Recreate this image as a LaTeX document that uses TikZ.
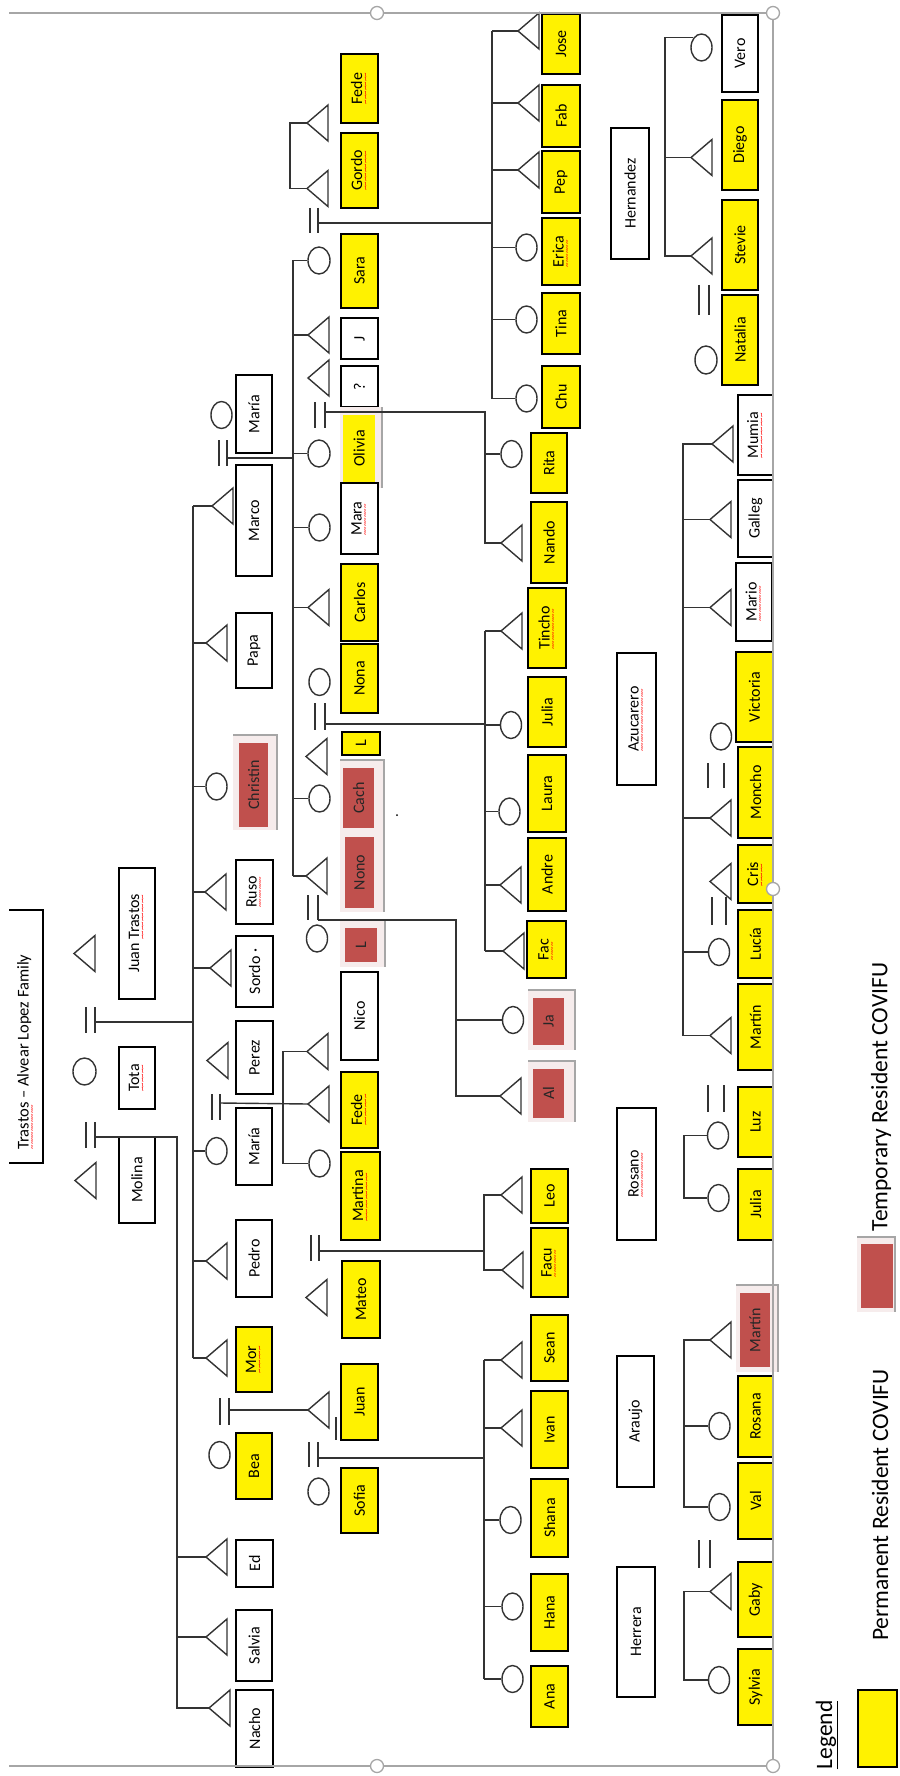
\documentclass[tikz,border=0pt]{standalone}
\usepackage{fontspec}
\setmainfont{Carlito}
\usetikzlibrary{shapes.geometric}
\definecolor{tred}{HTML}{C0504D}
\definecolor{tpink}{HTML}{F6ECEC}
\definecolor{tgray}{HTML}{A6A6A6}
\newcommand\sq[1]{\setbox0\hbox{#1}\rlap{\color{red}\hbox to \wd0{\leaders\hbox{\lower6pt\hbox{\fontsize{9}{9}\selectfont\char"7E}}\hfill}}\box0\relax}
\newcommand\nf{\fontsize{16}{19}\selectfont}
\newcommand\tf{\fontsize{16.5}{19}\selectfont}
\newcommand\lf{\fontsize{23.5}{27}\selectfont}
% box: [style]{name}{x1}{x2}{y1}{y2}{text}
\newcommand\bx[7][wbox]{\node[#1,rotate=90,minimum width={#6-#5},minimum height={#4-#3}] (#2) at ({(#3+#4)/2},{(#5+#6)/2}) {#7};}
% male: {name}{apex x}{apex y}
\newcommand\mal[3]{\coordinate (#1) at (#2,#3);\draw[ln,line join=miter] (#1) -- ++(21,-18) -- ++(0,36) -- cycle;}
% marriage bars: {name}{xa}{xb}{y1}{y2}{yc}
\newcommand\mar[6]{\draw[ln] (#2,#4) -- (#2,#5) (#3,#4) -- (#3,#5);\coordinate (#1) at (#3,#6);}
% frame: {x1}{x2}{y1}{y2}
\newcommand\frm[4]{\fill[tpink] (#1,#3) rectangle (#2,#4);\draw[fr] (#1,#3) -- (#2,#3) -- (#2,#4);}
% branch: {vertical coordinate}{node}
\newcommand\br[2]{\draw[ln] (#2) -- (#2 -| #1);}
\begin{document}
\begin{tikzpicture}[x=1pt,y=-1pt,
 ln/.style={line width=1.4pt,draw=black!80},
 fem/.style={ellipse,draw=black!80,line width=1.4pt,minimum width=21pt,minimum height=27pt,inner sep=0pt},
 wbox/.style={draw=black,line width=1.6pt,fill=white,inner sep=0pt,font=\nf},
 ybox/.style={wbox,fill=yellow},
 rbox/.style={fill=tred,inner sep=0pt,font=\nf,text=black!85},
 yfill/.style={fill=yellow,inner sep=0pt,font=\nf},
 lab/.style={rotate=90,inner sep=0pt,font=\lf},
 hdl/.style={circle,draw=tgray,fill=white,line width=1.3pt,minimum size=13pt,inner sep=0pt},
 gline/.style={draw=tgray,line width=1.3pt},
 fr/.style={draw=black!35,line width=1.5pt}]
\useasboundingbox (0,0) rectangle (899,1776);
\fill[white] (0,0) rectangle (899,1776);

% ---------- title ----------
\draw[draw=black,line width=1.6pt] (9,910) -- (43,910) -- (43,1163) -- (9,1163);
\node[rotate=90,inner sep=0pt,font=\tf] (title) at (26,1052) {\sq{Trastos} – Alvear Lopez Family};

% ---------- generation 1 ----------
\mal{mol}{75}{1180.5}
\mar{m1}{86}{95}{1122}{1148}{1137}
\node[fem,minimum width=23pt] (tota) at (84.5,1071.5) {};
\mar{m2}{86}{95}{1007}{1033}{1022}
\mal{jt}{74}{953.5}
\bx{bJT}{119}{155}{868}{999}{Juan \sq{Trastos}}
\bx{bTota}{119}{155}{1047}{1109}{\sq{Tota}}
\bx{bMolina}{119}{155}{1137}{1223}{Molina}

% ---------- generation 2 symbols ----------
\node[fem] (mariaA) at (221.5,415) {};
\mar{m3}{219}{227}{440}{466}{458}
\mal{marco}{212}{506}
\mal{papa}{206}{643}
\node[fem] (christin) at (216.5,786.5) {};
\mal{ruso}{205}{892}
\mal{sordo}{210}{968}
\mal{perez}{207}{1060.5}
\mar{m4}{212}{220}{1094}{1120}{1103}
\node[fem] (mariaB) at (216.5,1151) {};
\mal{pedro}{206}{1261}
\mal{mor}{206}{1358}
\mar{m5}{220}{229}{1398}{1425}{1410}
\node[fem] (bea) at (219.5,1455) {};
\mal{ed}{206}{1557}
\mal{salvia}{206}{1637}
\mal{nacho}{209}{1708}

% ---------- generation 2 boxes ----------
\bx{bMariaA}{236}{272}{375}{453}{María}
\bx{bMarco}{236}{272}{465}{576}{Marco}
\bx{bPapa}{236}{272}{613}{688}{Papa}
\frm{233}{277}{735}{830}
\bx[rbox]{bChristin}{239}{268}{743}{827}{Christin}
\bx{bRuso}{236}{273}{860}{924}{\sq{Ruso}}
\bx{bSordo}{236}{273}{936}{1007}{Sordo ·}
\bx{bPerez}{236}{273}{1021}{1094}{Perez}
\bx{bMariaB}{236}{272}{1108}{1185}{María}
\bx{bPedro}{236}{272}{1220}{1297}{Pedro}
\bx[ybox]{bMor}{236}{272}{1327}{1392}{\sq{Mor}}
\bx[ybox]{bBea}{236}{272}{1433}{1499}{Bea}
\bx{bEd}{236}{273}{1540}{1587}{Ed}
\bx{bSalvia}{236}{272}{1610}{1681}{Salvia}
\bx{bNacho}{236}{273}{1690}{1767}{Nacho}

% ---------- generation 3 symbols ----------
\mal{fedeT}{307}{123}
\mal{gordo}{307}{188.5}
\mar{m6}{310}{318}{208}{233}{223}
\node[fem,minimum width=22pt] (sara) at (319,260.5) {};
\mal{j}{308}{335}
\mal{q}{308}{378}
\mar{m7}{315}{325}{402}{428}{412}
\node[fem,minimum width=22pt] (olivia) at (319,453.5) {};
\node[fem] (mara) at (319.5,527.5) {};
\mal{carlos}{308}{607.5}
\node[fem] (nona) at (319.5,682) {};
\mar{m8}{315}{325}{703}{730}{724}
\mal{lT}{306}{756.5}
\node[fem] (cach) at (319.5,798.5) {};
\mal{nono}{306}{876}
\mar{m9}{308}{318}{895}{920}{920}
\node[fem] (lC) at (317,938.5) {};
\mal{nico}{307}{1051.5}
\mal{fedeB}{308}{1104}
\node[fem] (martina) at (319.5,1163.5) {};
\mar{m10}{311}{319}{1235}{1261}{1251}
\mal{mateo}{306}{1297.5}
\mal{juan}{308}{1410}
\draw[ln] (336,1417) -- (336,1440);
\mar{m11}{309}{318}{1442}{1467}{1458}
\node[fem] (sofia) at (318.5,1491.5) {};

% ---------- generation 3 boxes ----------
\bx[ybox]{bFedeA}{341}{378}{54}{123}{\sq{Fede}}
\bx[ybox]{bGordo}{341}{378}{133}{208}{\sq{Gordo}}
\bx[ybox]{bSara}{341}{378}{234}{308}{Sara}
\bx{bJ}{341}{378}{318}{359}{J}
\bx{bQ}{341}{378}{366}{407}{?}
\fill[tpink] (340,407) rectangle (382,488);
\draw[fr] (382,407) -- (382,488);
\bx[yfill]{bOlivia}{343}{375}{415}{482}{Olivia}
\bx{bMara}{341}{378}{483}{554}{\sq{Mara}}
\bx[ybox]{bCarlos}{341}{378}{564}{641}{Carlos}
\bx[ybox]{bNona}{341}{378}{644}{713}{Nona}
\bx[ybox]{bL1}{342}{380}{732}{755}{L}
\frm{340}{384}{760}{912}
\bx[rbox]{bCach}{343}{374}{768}{828}{Cach}
\bx[rbox]{bNono}{345}{374}{837}{908}{Nono}
\frm{340}{385}{920}{967}
\bx[rbox]{bL2}{345}{377}{928}{962}{L}
\fill (397,815) circle (1pt);
\bx{bNico}{341}{378}{972}{1060}{Nico}
\bx[ybox]{bFedeB}{341}{378}{1072}{1148}{\sq{Fede}}
\bx[ybox]{bMartina}{341}{380}{1152}{1240}{\sq{Martina}}
\bx[ybox]{bMateo}{342}{380}{1261}{1338}{Mateo}
\bx[ybox]{bJuan}{341}{378}{1364}{1440}{Juan}
\bx[ybox]{bSofia}{341}{378}{1468}{1533}{Sofia}

% ---------- generation 4 symbols ----------
\mal{jose}{518}{31}
\mal{fab}{518}{103}
\mal{pep}{518}{170}
\node[fem] (erica) at (526.5,247.5) {};
\node[fem] (tina) at (526.5,319.5) {};
\node[fem] (chu) at (526.5,398.5) {};
\node[fem] (rita) at (511.5,454) {};
\mal{nando}{501}{543}
\mal{tincho}{501}{631}
\node[fem] (juliaA) at (511,725) {};
\node[fem] (laura) at (509.5,811.5) {};
\mal{andre}{500}{885}
\mal{fac}{503}{951}
\node[fem] (ja) at (513,1020) {};
\mal{al}{500}{1096}
\mal{leo}{501}{1195}
\mal{facu}{502}{1270}
\mal{sean}{501}{1360}
\mal{ivan}{501}{1428}
\node[fem] (shana) at (510.5,1520) {};
\node[fem] (hana) at (512.5,1606.5) {};
\node[fem] (ana) at (512.5,1679) {};

% ---------- generation 4 boxes ----------
\bx[ybox]{bJose}{542}{580}{14}{74}{Jose}
\bx[ybox]{bFab}{542}{580}{85}{147}{Fab}
\bx[ybox]{bPep}{542}{580}{151}{213}{Pep}
\bx[ybox]{bErica}{542}{580}{218}{285}{\sq{Erica}}
\bx[ybox]{bTina}{542}{580}{293}{354}{Tina}
\bx[ybox]{bChu}{542}{580}{366}{428}{Chu}
\bx[ybox]{bRita}{531}{567}{433}{493}{Rita}
\bx[ybox]{bNando}{531}{567}{502}{583}{Nando}
\bx[ybox]{bTincho}{528}{566}{588}{668}{\sq{Tincho}}
\bx[ybox]{bJuliaA}{528}{566}{677}{747}{Julia}
\bx[ybox]{bLaura}{528}{566}{755}{832}{Laura}
\bx[ybox]{bAndre}{528}{566}{838}{911}{Andre}
\bx[ybox]{bFac}{527}{566}{921}{978}{\sq{Fac}}
\frm{528}{575}{990}{1050}
\bx[rbox]{bJa}{533}{564}{998}{1045}{Ja}
\frm{528}{575}{1061}{1122}
\bx[rbox]{bAl}{533}{564}{1069}{1118}{Al}
\bx[ybox]{bLeo}{531}{568}{1169}{1223}{Leo}
\bx[ybox]{bFacu}{531}{568}{1228}{1297}{\sq{Facu}}
\bx[ybox]{bSean}{531}{568}{1315}{1381}{Sean}
\bx[ybox]{bIvan}{531}{568}{1391}{1468}{Ivan}
\bx[ybox]{bShana}{531}{568}{1479}{1557}{Shana}
\bx[ybox]{bHana}{531}{568}{1574}{1651}{Hana}
\bx[ybox]{bAna}{531}{568}{1666}{1727}{Ana}

% ---------- family labels ----------
\bx{bHern}{611}{649}{128}{259}{Hernandez}
\bx{bAzu}{617}{656}{653}{785}{\sq{Azucarero}}
\bx{bRosano}{617}{656}{1108}{1240}{\sq{Rosano}}
\bx{bAraujo}{617}{654}{1356}{1487}{Araujo}
\bx{bHerrera}{617}{655}{1567}{1697}{Herrera}

% ---------- right families symbols ----------
\node[fem] (vero) at (701.5,47.5) {};
\mal{diego}{691}{157.5}
\mal{stevie}{691}{256}
\mar{m12}{699}{709}{285}{315}{300}
\node[fem,minimum width=22pt,minimum height=28pt] (natalia) at (706,360) {};
\mal{mumia}{712}{444}
\mal{galleg}{710}{519.5}
\mal{mario}{710}{607.5}
\node[fem] (victoria) at (721,736.5) {};
\mar{m13}{708}{724}{763}{788}{775}
\mal{moncho}{710}{818}
\mal{cris}{710}{881.5}
\mar{m14}{712}{726}{897}{925}{911}
\node[fem] (lucia) at (719,952) {};
\mal{martinA}{710}{1035.5}
\mar{m15}{708}{724}{1085}{1112}{1098}
\node[fem] (luz) at (718,1135.5) {};
\node[fem] (juliaB) at (718.5,1198) {};
\mal{martinR}{710}{1340}
\node[fem] (rosana) at (719.5,1426) {};
\node[fem] (val) at (719.5,1507) {};
\mar{m16}{699}{710}{1540}{1568}{1554}
\mal{gaby}{710}{1591.5}
\node[fem] (sylvia) at (719,1680) {};

% ---------- right families boxes ----------
\bx{bVero}{722}{758}{15}{92}{Vero}
\bx[ybox]{bDiego}{722}{758}{100}{190}{Diego}
\bx[ybox]{bStevie}{722}{758}{200}{290}{Stevie}
\bx[ybox]{bNatalia}{722}{758}{295}{385}{Natalia}
\bx{bMumia}{738}{773}{395}{475}{\sq{Mumia}}
\bx{bGalleg}{738}{773}{480}{557}{Galleg}
\bx{bMario}{736}{772}{563}{641}{\sq{Mario}}
\bx[ybox]{bVictoria}{736}{773}{652}{742}{Victoria}
\bx[ybox]{bMoncho}{738}{773}{747}{838}{Moncho}
\bx[ybox]{bCris}{738}{773}{845}{903}{\sq{Cris}}
\bx[ybox]{bLucia}{738}{773}{910}{978}{Lucía}
\bx[ybox]{bMartinA}{738}{773}{984}{1070}{Martín}
\bx[ybox]{bLuz}{738}{773}{1087}{1157}{Luz}
\bx[ybox]{bJuliaB}{738}{773}{1169}{1240}{Julia}
\frm{736}{778}{1285}{1372}
\bx[rbox]{bMartinR}{740}{770}{1293}{1367}{Martín}
\bx[ybox]{bRosana}{738}{773}{1376}{1457}{Rosana}
\bx[ybox]{bVal}{738}{773}{1463}{1539}{Val}
\bx[ybox]{bGaby}{738}{773}{1562}{1637}{Gaby}
\bx[ybox]{bSylvia}{738}{773}{1649}{1725}{Sylvia}

% ---------- connectors ----------
\coordinate (v1) at (177,1137);
\draw[ln] (m1) -- (v1) |- (nacho);
\br{v1}{ed} \br{v1}{salvia}
\coordinate (v2) at (193,1022);
\draw[ln] (m2) -- (v2);
\draw[ln] (marco -| v2) -- (mor -| v2);
\br{v2}{marco} \br{v2}{papa} \br{v2}{christin.west} \br{v2}{ruso} \br{v2}{sordo}
\br{v2}{mariaB.west} \br{v2}{pedro} \br{v2}{mor}
\coordinate (v3) at (293,458);
\draw[ln] (m3) -- (v3);
\draw[ln] (sara.west -| v3) -- (nono -| v3);
\br{v3}{sara.west} \br{v3}{j} \br{v3}{olivia.west} \br{v3}{mara.west} \br{v3}{carlos}
\br{v3}{cach.west} \br{v3}{nono}
\coordinate (v4) at (290,124);
\draw[ln] (fedeT) -- (fedeT -| v4) -- (gordo -| v4) -- (gordo);
\coordinate (v5) at (283,1103);
\draw[ln] (m4) -- (fedeB);
\draw[ln] (nico) -| (v5) |- (martina.west);
\draw[ln] (m5) -- (juan);
\coordinate (v6) at (492,223);
\draw[ln] (m6) -- (v6);
\draw[ln] (jose -| v6) -- (chu.west -| v6);
\br{v6}{jose} \br{v6}{fab} \br{v6}{pep} \br{v6}{erica.west} \br{v6}{tina.west} \br{v6}{chu.west}
\coordinate (v7) at (485,412);
\draw[ln] (m7) -- (v7) |- (nando);
\br{v7}{rita.west}
\coordinate (v8) at (485,724);
\draw[ln] (m8) -- (v8);
\draw[ln] (tincho -| v8) -- (fac -| v8);
\br{v8}{tincho} \br{v8}{juliaA.west} \br{v8}{laura.west} \br{v8}{andre} \br{v8}{fac}
\coordinate (v9) at (456,920);
\draw[ln] (m9) -- (v9) |- (al);
\br{v9}{ja.west}
\coordinate (v10) at (484,1251);
\draw[ln] (m10) -- (v10);
\draw[ln] (leo) -| (v10) |- (facu);
\coordinate (v11) at (484,1458);
\draw[ln] (m11) -- (v11);
\draw[ln] (sean -| v11) -- (ana.west -| v11);
\br{v11}{sean} \br{v11}{ivan} \br{v11}{shana.west} \br{v11}{hana.west} \br{v11}{ana.west}
\coordinate (v12) at (665,0);
\draw[ln] (vero.129) -- (vero.129 -| v12) |- (stevie);
\br{v12}{diego}
\coordinate (v13) at (683,0);
\draw[ln] (mumia) -- (mumia -| v13) |- (martinA);
\br{v13}{galleg} \br{v13}{mario} \br{v13}{moncho} \br{v13}{lucia.west}
\coordinate (v14) at (684,0);
\draw[ln] (luz.west) -- (luz.west -| v14) |- (juliaB.west);
\draw[ln] (martinR) -- (martinR -| v14) |- (val.west);
\br{v14}{rosana.west}
\draw[ln] (gaby) -- (gaby -| v14) |- (sylvia.west);

% ---------- legend ----------
\node[lab] (legend) at (827,1735) {\underline{Legend}};
\bx[ybox]{bLegY}{858}{897}{1690}{1767}{}
\node[lab] (perm) at (880,1505) {Permanent Resident COVIFU};
\frm{857}{895}{1237}{1312}
\bx[rbox]{bLegR}{861}{893}{1244}{1308}{}
\node[lab] (temp) at (881,1097) {Temporary Resident COVIFU};

% ---------- picture frame and handles ----------
\draw[gline] (9,13) -- (773,13) -- (773,1766) -- (9,1766);
\node[hdl] (h1) at (377,13) {};
\node[hdl] (h2) at (773,13) {};
\node[hdl] (h3) at (773,889) {};
\node[hdl] (h4) at (377,1766) {};
\node[hdl] (h5) at (773,1766) {};
\end{tikzpicture}
\end{document}
